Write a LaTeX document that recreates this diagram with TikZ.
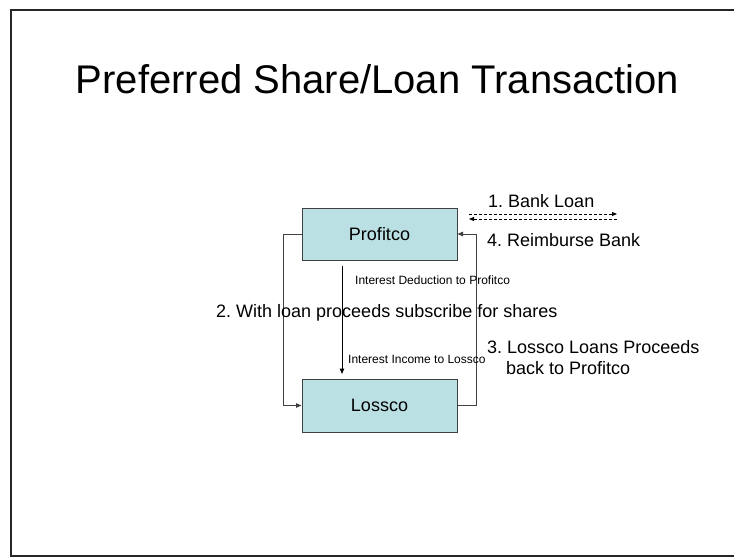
\documentclass[tikz,border=0pt]{standalone}
\usepackage{fontspec}
\setmainfont{Liberation Sans}
\usepackage{tikz}
\usetikzlibrary{arrows.meta}
\definecolor{boxcyan}{RGB}{186,224,228}
\definecolor{edgegray}{RGB}{64,64,64}
\frenchspacing

\begin{document}
\begin{tikzpicture}[x=1pt,y=-1pt,
  firm/.style={draw=edgegray,fill=boxcyan,line width=1pt,minimum width=155pt,minimum height=52pt,inner sep=0pt,font=\fontsize{18}{21}\selectfont},
  link/.style={draw=edgegray,line width=1pt,-{Triangle[length=5.5pt,width=4.5pt]}},
  bank/.style={line width=0.8pt,dash pattern=on 3pt off 2pt,-{Triangle[length=5pt,width=4pt]}},
  big/.style={anchor=base west,inner sep=0pt,font=\fontsize{18}{21}\selectfont},
  small/.style={anchor=base west,inner sep=0pt,font=\fontsize{12}{14}\selectfont}]
\clip (0,0) rectangle (734,557);
% Draw the slide frame
\draw[line width=1.5pt,black!85] (11,10) rectangle (745,556);
% Title
\node[anchor=base,inner sep=0pt,font=\fontsize{40}{46}\selectfont] (title) at (377.5,93) {Preferred Share/Loan Transaction};
% Draw the two companies
\node[firm] (profitco) at (379.5,234) {Profitco};
\node[firm,minimum height=53pt] (lossco) at (379.5,405.5) {Lossco};
% Draw the loops between them
\draw[link] (profitco.west) -- ++(-18,0) |- (lossco.west);
\draw[link] (lossco.east) -- ++(19,0) |- (profitco.east);
% Draw the interest arrow
\coordinate (inttop) at (342,266);
\coordinate (intbot) at (342,374);
\draw[link,draw=black] (inttop) -- (intbot);
% Draw the bank arrows
\coordinate (bankin) at (469,219);
\coordinate (bankout) at (617,219);
\draw[bank] (bankout) -- (bankin);
\draw[bank] ([yshift=5pt]bankin) -- ([yshift=5pt]bankout);
% Labels
\node[big] (loan) at (488,207) {1. Bank Loan};
\node[big] (repay) at (487,246) {4. Reimburse Bank};
\node[small] (deduct) at (355,284) {Interest Deduction to Profitco};
\node[big] (subscribe) at (216,317) {2. With loan proceeds subscribe for shares};
\node[big] (lend) at (487,353) {3. Lossco Loans Proceeds};
\node[big] (lendb) at (506,374) {back to Profitco};
\node[small] (income) at (348,363) {Interest Income to Lossco};
\end{tikzpicture}
\end{document}
